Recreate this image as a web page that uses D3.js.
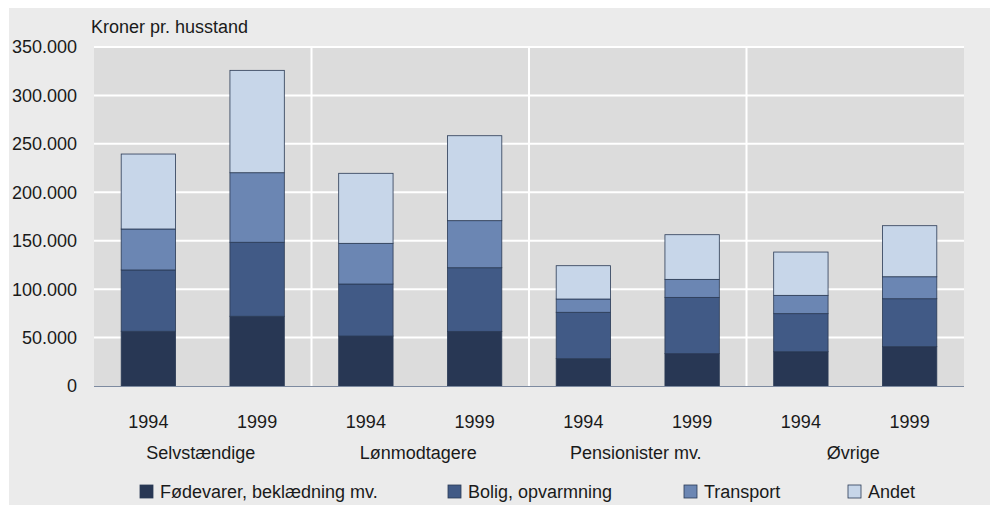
<!DOCTYPE html>
<html>
<head>
<meta charset="utf-8">
<script src="https://cdn.jsdelivr.net/npm/d3@7"></script>
<style>
  body { margin: 0; background: #fff; }
  svg text { font-family: "Liberation Sans", "Noto Sans", sans-serif; fill: #1a1a1a; }
</style>
</head>
<body>
<svg></svg>
<script>
let width = 995,
    height = 509,
    plotLeft = 94,
    plotRight = 964,
    plotTop = 47,
    plotBottom = 386

const groups = ["Selvstændige", "Lønmodtagere", "Pensionister mv.", "Øvrige"]
const years = ["1994", "1999"]
const seriesNames = ["Fødevarer, beklædning mv.", "Bolig, opvarmning", "Transport", "Andet"]
const colors = ["#283754", "#415a86", "#6b86b3", "#c7d6e9"]

// one value per bar: Selv 94, Selv 99, Løn 94, Løn 99, Pens 94, Pens 99, Øvr 94, Øvr 99
const foede     = [56500, 72000, 51600, 56400, 28200, 33400, 35400, 40600]
const bolig     = [63300, 76400, 53700, 65700, 47900, 58100, 39300, 49500]
const transport = [42300, 71800, 42000, 48600, 13700, 18600, 18900, 22700]
const andet     = [77400, 105700, 72300, 87700, 34400, 46100, 44700, 52700]

const yTicks = [0, 50000, 100000, 150000, 200000, 250000, 300000, 350000]

const rows = []
groups.forEach((g, gi) => {
    years.forEach((yr, yi) => {
        const i = gi * 2 + yi
        rows.push({key: g + yr, group: g, year: yr,
            foede: foede[i], bolig: bolig[i], transport: transport[i], andet: andet[i]})
    })
})

const svg = d3.select("svg").attr("width", width).attr("height", height)

// outer background
svg.append("rect").attr("x", 9).attr("y", 8).attr("width", 981).attr("height", 497).attr("fill", "#ebebeb")

// plot background
svg.append("rect").attr("x", plotLeft).attr("y", plotTop)
    .attr("width", plotRight - plotLeft).attr("height", plotBottom - plotTop).attr("fill", "#dcdcdc")

const x = d3.scaleBand().domain(rows.map(d => d.key)).range([plotLeft, plotRight]).paddingInner(0.5).paddingOuter(0.25)
const xGroup = d3.scaleBand().domain(groups).range([plotLeft, plotRight])
const y = d3.scaleLinear().domain([0, 350000]).range([plotBottom, plotTop])

// horizontal grid
svg.append("g").selectAll("line").data(yTicks.slice(1)).enter().append("line")
    .attr("x1", plotLeft).attr("x2", plotRight)
    .attr("y1", d => y(d)).attr("y2", d => y(d))
    .attr("stroke", "#fff").attr("stroke-width", 2)

// vertical group dividers
svg.append("g").selectAll("line").data(groups.slice(1)).enter().append("line")
    .attr("x1", d => xGroup(d)).attr("x2", d => xGroup(d))
    .attr("y1", plotTop).attr("y2", plotBottom)
    .attr("stroke", "#fff").attr("stroke-width", 2)

const stacked = d3.stack().keys(["foede", "bolig", "transport", "andet"])(rows)

svg.append("g").selectAll("g").data(stacked).enter().append("g")
    .attr("fill", (d, i) => colors[i])
    .selectAll("rect").data(d => d).enter().append("rect")
    .attr("x", d => x(d.data.key))
    .attr("y", d => y(d[1]))
    .attr("width", x.bandwidth())
    .attr("height", d => y(d[0]) - y(d[1]))
    .attr("stroke", "#2a3a55").attr("stroke-width", 0.8)

// axis baseline
svg.append("line").attr("x1", plotLeft).attr("x2", plotRight)
    .attr("y1", plotBottom + 0.5).attr("y2", plotBottom + 0.5)
    .attr("stroke", "#7d8aa0").attr("stroke-width", 1.2)

// y tick labels
const fmt = d3.formatLocale({decimal: ",", thousands: ".", grouping: [3], currency: ["", " kr"]}).format(",")
svg.append("g").selectAll("text").data(yTicks).enter().append("text")
    .attr("x", 77).attr("y", d => y(d)).attr("dy", "0.36em")
    .attr("text-anchor", "end").attr("font-size", 18)
    .text(d => fmt(d))

svg.append("text").attr("x", 91).attr("y", 33).attr("font-size", 18).text("Kroner pr. husstand")

// year labels
svg.append("g").selectAll("text").data(rows).enter().append("text")
    .attr("x", d => x(d.key) + x.bandwidth() / 2).attr("y", 428)
    .attr("text-anchor", "middle").attr("font-size", 18)
    .text(d => d.year)

// group labels
svg.append("g").selectAll("text").data(groups).enter().append("text")
    .attr("x", d => xGroup(d) + xGroup.bandwidth() / 2 - 2).attr("y", 459)
    .attr("text-anchor", "middle").attr("font-size", 18)
    .text(d => d)

// legend
const legendX = [140, 448, 684, 848]
const legend = svg.append("g").selectAll("g").data(seriesNames).enter().append("g")
    .attr("transform", (d, i) => `translate(${legendX[i]},485)`)
legend.append("rect").attr("width", 13).attr("height", 13)
    .attr("fill", (d, i) => colors[i]).attr("stroke", "#2a3a55").attr("stroke-width", 0.8)
legend.append("text").attr("x", 20).attr("y", 12.5).attr("font-size", 18).text(d => d)
</script>
</body>
</html>
